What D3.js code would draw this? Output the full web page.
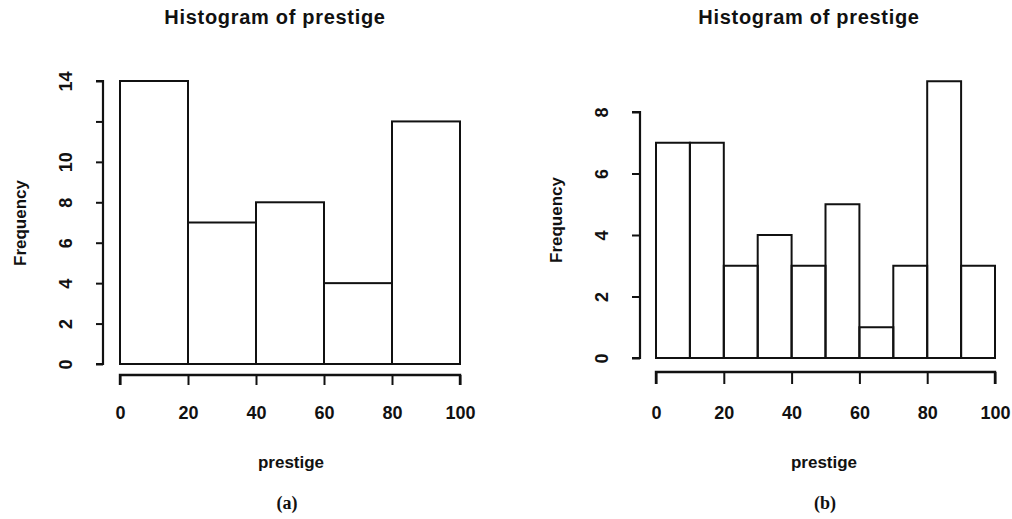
<!DOCTYPE html>
<html>
<head>
<meta charset="utf-8">
<script src="https://cdn.jsdelivr.net/npm/d3@7"></script>
<style>
  html, body { margin: 0; padding: 0; background: #fff; }
  svg { display: block; }
  text { font-family: "Liberation Sans", "DejaVu Sans", sans-serif; fill: #111; }
</style>
</head>
<body>
<svg id="chart" width="1012" height="519"></svg>
<script>
// Histogram (a): bins of width 20
const breaksA = [0, 20, 40, 60, 80, 100];
const countsA = [14, 7, 8, 4, 12];
const yTicksA = [0, 2, 4, 6, 8, 10, 12, 14];
const yTickLabelsA = ["0", "2", "4", "6", "8", "10", "", "14"];

// Histogram (b): bins of width 10
const breaksB = [0, 10, 20, 30, 40, 50, 60, 70, 80, 90, 100];
const countsB = [7, 7, 3, 4, 3, 5, 1, 3, 9, 3];
const yTicksB = [0, 2, 4, 6, 8];
const yTickLabelsB = ["0", "2", "4", "6", "8"];

const xTicks = [0, 20, 40, 60, 80, 100];
const titleText = "Histogram of prestige";
const xLabelText = "prestige";
const yLabelText = "Frequency";
const captions = ["(a)", "(b)"];

const svg = d3.select("#chart");
const INK = "#111";

function drawHistogram(cfg) {
  const { breaks, counts, yTicks, yTickLabels, yMax } = cfg;
  const x = d3.scaleLinear().domain([0, 100]).range([cfg.x0, cfg.x1]);
  const y = d3.scaleLinear().domain([0, yMax]).range([cfg.y0, cfg.y1]);
  const g = svg.append("g");

  // bars
  const bins = counts.map((c, i) => ({ lo: breaks[i], hi: breaks[i + 1], n: c }));
  g.selectAll("rect.bar").data(bins).join("rect")
    .attr("class", "bar")
    .attr("x", d => x(d.lo))
    .attr("y", d => y(d.n))
    .attr("width", d => x(d.hi) - x(d.lo))
    .attr("height", d => y(0) - y(d.n))
    .attr("fill", "none")
    .attr("stroke", INK)
    .attr("stroke-width", 2);

  // x axis
  const xAxis = d3.axisBottom(x).tickValues(xTicks).tickSize(cfg.xTickLen)
    .tickSizeOuter(0).tickFormat(d3.format("d"));
  const gx = g.append("g").attr("transform", `translate(0,${cfg.xAxisY})`).call(xAxis);
  gx.select(".domain").attr("stroke", INK).attr("stroke-width", 2.4)
    .attr("d", `M${x(0)},${cfg.xTickLen}V0H${x(100)}V${cfg.xTickLen}`);
  gx.selectAll(".tick line").attr("stroke", INK).attr("stroke-width", 2);
  gx.selectAll(".tick text")
    .attr("y", cfg.xLabelY - cfg.xAxisY)
    .attr("dy", "0.36em")
    .style("font-size", "18px").style("font-weight", "bold").attr("fill", INK);

  // y axis
  const yAxis = d3.axisLeft(y).tickValues(yTicks).tickSize(cfg.yTickLen)
    .tickSizeOuter(0).tickFormat((d, i) => yTickLabels[i]);
  const gy = g.append("g").attr("transform", `translate(${cfg.yAxisX},0)`).call(yAxis);
  gy.select(".domain").attr("stroke", INK).attr("stroke-width", 2.2)
    .attr("d", `M${-cfg.yTickLen},${y(0)}H0V${y(yMax)}H${-cfg.yTickLen}`);
  gy.selectAll(".tick line").attr("stroke", INK).attr("stroke-width", 2);
  gy.selectAll(".tick text")
    .attr("x", null).attr("dy", null)
    .attr("text-anchor", "middle")
    .attr("transform", `translate(${cfg.yLabelX - cfg.yAxisX},0) rotate(-90)`)
    .attr("y", 0).attr("dy", "0.36em")
    .style("font-size", "18px").style("font-weight", "bold").attr("fill", INK);

  // titles and labels
  g.append("text").attr("x", cfg.titleX).attr("y", 17).attr("dy", "0.36em")
    .attr("text-anchor", "middle").style("font-size", "20px").style("font-weight", "bold")
    .style("letter-spacing", "0.7px")
    .text(titleText);
  g.append("text").attr("x", cfg.xTitleX).attr("y", 463).attr("dy", "0.3em")
    .attr("text-anchor", "middle").style("font-size", "17px").style("font-weight", "bold")
    .text(xLabelText);
  g.append("text")
    .attr("transform", `translate(${cfg.yTitleX},${cfg.yTitleY}) rotate(-90)`)
    .attr("dy", "0.3em").attr("text-anchor", "middle")
    .style("font-size", "17px").style("font-weight", "bold")
    .text(yLabelText);
  g.append("text").attr("x", cfg.capX).attr("y", 503).attr("dy", "0.35em")
    .attr("text-anchor", "middle")
    .style("font-family", "'Liberation Serif', serif").style("font-size", "18px").style("font-weight", "bold")
    .text(cfg.caption);
}

drawHistogram({
  breaks: breaksA, counts: countsA, yTicks: yTicksA, yTickLabels: yTickLabelsA, yMax: 14,
  x0: 120, x1: 460, y0: 364, y1: 81,
  xAxisY: 375, xTickLen: 10, xLabelY: 413,
  yAxisX: 103, yTickLen: 7, yLabelX: 66,
  titleX: 275, xTitleX: 291, yTitleX: 21, yTitleY: 223, capX: 287, caption: captions[0]
});

drawHistogram({
  breaks: breaksB, counts: countsB, yTicks: yTicksB, yTickLabels: yTickLabelsB, yMax: 8,
  x0: 656, x1: 995, y0: 358, y1: 112,
  xAxisY: 372, xTickLen: 12, xLabelY: 413,
  yAxisX: 640, yTickLen: 8, yLabelX: 602,
  titleX: 809, xTitleX: 824, yTitleX: 557, yTitleY: 220, capX: 825, caption: captions[1]
});
</script>
</body>
</html>
